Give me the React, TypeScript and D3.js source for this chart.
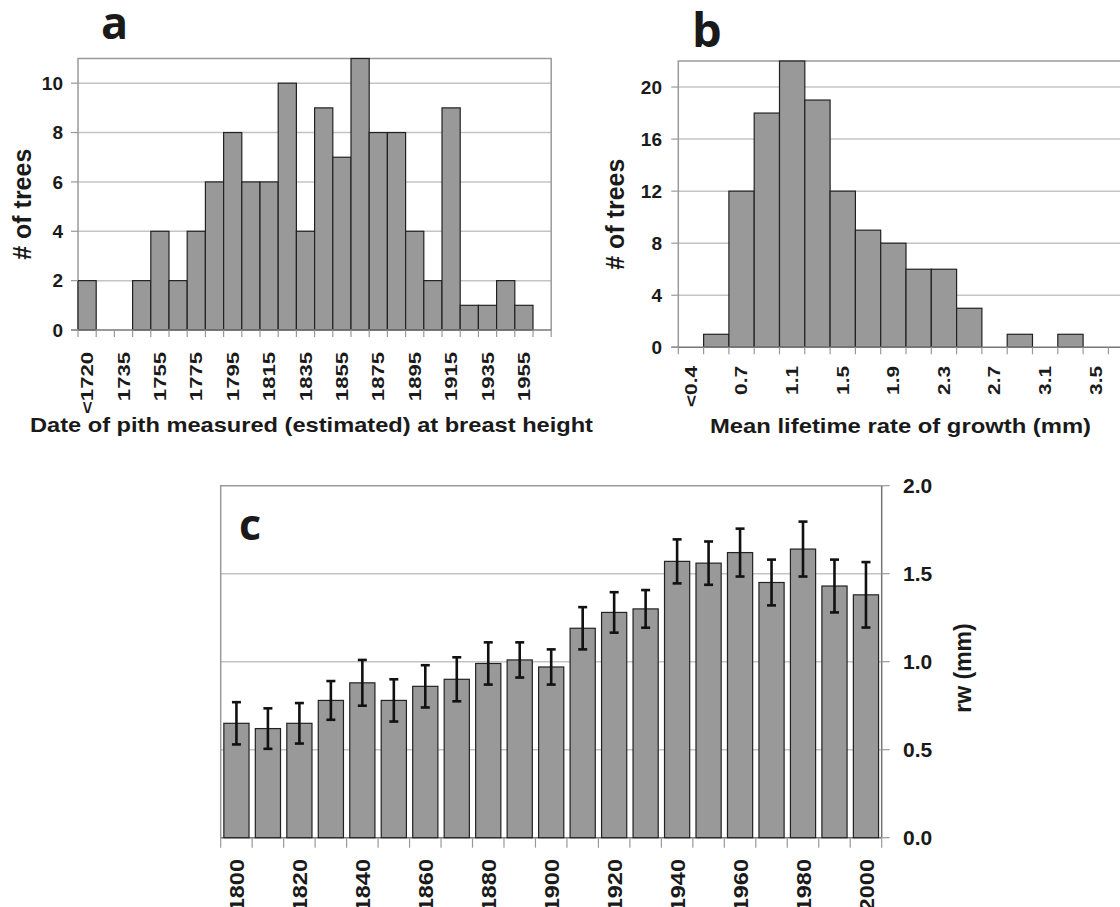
import { useEffect, useRef } from 'react';
import * as d3 from 'd3';

// panel a: date of pith at breast height (26 bins, label every other bin)
const PITH_COUNTS = [2, 0, 0, 2, 4, 2, 4, 6, 8, 6, 6, 10, 4, 9, 7, 11, 8, 8, 4, 2, 9, 1, 1, 2, 1, 0];
const PITH_LABELS = ['<1720', '1735', '1755', '1775', '1795', '1815', '1835', '1855', '1875', '1895', '1915', '1935', '1955'];
const PITH_TICKS = [0, 2, 4, 6, 8, 10];

// panel b: mean lifetime growth rate (18 bins, last one cut by the page edge)
const GROWTH_COUNTS = [0, 1, 12, 18, 22, 19, 12, 9, 8, 6, 6, 3, 0, 1, 0, 1, 0, 0];
const GROWTH_LABELS = ['<0.4', '0.7', '1.1', '1.5', '1.9', '2.3', '2.7', '3.1', '3.5'];
const GROWTH_TICKS = [0, 4, 8, 12, 16, 20];

// panel c: ring width per decade
const RW_DECADES = [1800, 1810, 1820, 1830, 1840, 1850, 1860, 1870, 1880, 1890, 1900, 1910, 1920, 1930, 1940, 1950, 1960, 1970, 1980, 1990, 2000];
const RW_MEAN = [0.65, 0.62, 0.65, 0.78, 0.88, 0.78, 0.86, 0.90, 0.99, 1.01, 0.97, 1.19, 1.28, 1.30, 1.57, 1.56, 1.62, 1.45, 1.64, 1.43, 1.38];
const RW_ERR = [0.12, 0.115, 0.115, 0.11, 0.13, 0.12, 0.12, 0.125, 0.12, 0.1, 0.1, 0.12, 0.115, 0.107, 0.125, 0.123, 0.136, 0.13, 0.156, 0.15, 0.186];
const RW_TICKS = [0, 0.5, 1.0, 1.5, 2.0];

const FONT = '"Liberation Sans", Arial, sans-serif';
const INK = '#1a1a1a';
const BAR = '#999999';
const GRID = '#c4c4c4';
const FRAME = '#9a9a9a';

type Sel = d3.Selection<SVGGElement, unknown, null, undefined>;

function histogram(root: Sel, o: {
  counts: number[]; labels: string[]; ticks: number[]; max: number;
  x0: number; binW: number; top: number; bottom: number;
  labelTop: number; labelSize: number; yLabelX: number; tickRight: number;
  title: string; titleX: number; titleY: number; titleLen: number;
}) {
  const n = o.counts.length;
  const x = d3.scaleBand<number>().domain(d3.range(n)).range([o.x0, o.x0 + n * o.binW]).padding(0);
  const y = d3.scaleLinear().domain([0, o.max]).range([o.bottom, o.top]);
  const x1 = o.x0 + n * o.binW;

  // grid
  root.append('g').selectAll('line').data(o.ticks.filter(t => t > 0)).join('line')
    .attr('x1', o.x0).attr('x2', x1).attr('y1', d => y(d)).attr('y2', d => y(d))
    .attr('stroke', GRID).attr('stroke-width', 1.5);

  // frame
  root.append('path')
    .attr('d', `M${o.x0},${o.bottom}V${o.top}H${x1}V${o.bottom}`)
    .attr('fill', 'none').attr('stroke', FRAME).attr('stroke-width', 1.5);

  // bars
  root.append('g').selectAll('rect').data(o.counts.map((c, i) => ({ c, i })).filter(d => d.c > 0)).join('rect')
    .attr('x', d => x(d.i)!).attr('width', x.bandwidth())
    .attr('y', d => y(d.c)).attr('height', d => o.bottom - y(d.c))
    .attr('fill', BAR).attr('stroke', '#222').attr('stroke-width', 1.2);

  // x axis + ticks at bin edges
  root.append('line').attr('x1', o.x0 - 7).attr('x2', x1).attr('y1', o.bottom).attr('y2', o.bottom)
    .attr('stroke', '#777').attr('stroke-width', 1.5);
  root.append('g').selectAll('line').data(d3.range(n + 1)).join('line')
    .attr('x1', i => o.x0 + i * o.binW).attr('x2', i => o.x0 + i * o.binW)
    .attr('y1', o.bottom).attr('y2', o.bottom + 7)
    .attr('stroke', '#999').attr('stroke-width', 1.2);

  // y ticks
  root.append('g').selectAll('line').data(o.ticks).join('line')
    .attr('x1', o.x0 - 7).attr('x2', o.x0).attr('y1', d => y(d)).attr('y2', d => y(d))
    .attr('stroke', '#999').attr('stroke-width', 1.2);
  root.append('g').selectAll('text').data(o.ticks).join('text')
    .attr('x', o.tickRight).attr('y', d => y(d)).attr('dy', '0.36em')
    .attr('text-anchor', 'end').attr('font-size', 19).attr('font-weight', 700)
    .attr('fill', INK).text(d => d);

  // rotated category labels (every other bin)
  root.append('g').selectAll('text').data(o.labels).join('text')
    .attr('transform', (_, i) => `translate(${x(i * 2)! + x.bandwidth() / 2},${o.labelTop}) rotate(-90) scale(1.3,1)`)
    .attr('dy', '0.36em').attr('text-anchor', 'end')
    .attr('font-size', o.labelSize).attr('font-weight', 700).attr('fill', INK)
    .text(d => d);

  root.append('text')
    .attr('transform', `translate(${o.yLabelX},${(o.top + o.bottom) / 2 + 10}) rotate(-90)`)
    .attr('dy', '0.36em').attr('text-anchor', 'middle')
    .attr('font-size', 25).attr('font-weight', 700).attr('fill', INK).text('# of trees');

  root.append('text')
    .attr('x', o.titleX).attr('y', o.titleY)
    .attr('textLength', o.titleLen).attr('lengthAdjust', 'spacingAndGlyphs')
    .attr('font-size', 21).attr('font-weight', 700).attr('fill', INK).text(o.title);
}

export default function App() {
  const svgRef = useRef<SVGSVGElement>(null);

  useEffect(() => {
    if (!svgRef.current) return;
    const svg = d3.select(svgRef.current);
    svg.selectAll('*').remove();
    const root = svg.append('g').attr('font-family', FONT) as Sel;

    // ── a ─────────────────────────────────────────────
    histogram(root, {
      counts: PITH_COUNTS, labels: PITH_LABELS, ticks: PITH_TICKS, max: 11,
      x0: 78, binW: 18.2, top: 58.5, bottom: 330,
      labelTop: 352, labelSize: 17, yLabelX: 22, tickRight: 63,
      title: 'Date of pith measured (estimated) at breast height', titleX: 30, titleY: 432, titleLen: 563,
    });
    root.append('text').attr('x', 101).attr('y', 39)
      .attr('font-family', '"Open Sans", sans-serif').attr('font-size', 45).attr('font-weight', 700)
      .attr('fill', INK).text('a');

    // ── b ─────────────────────────────────────────────
    histogram(root, {
      counts: GROWTH_COUNTS, labels: GROWTH_LABELS, ticks: GROWTH_TICKS, max: 22,
      x0: 678.3, binW: 25.3, top: 61, bottom: 347.3,
      labelTop: 366, labelSize: 16, yLabelX: 615, tickRight: 662,
      title: 'Mean lifetime rate of growth (mm)', titleX: 710, titleY: 433, titleLen: 381,
    });
    root.append('text').attr('x', 692).attr('y', 46.5)
      .attr('font-family', '"Open Sans", sans-serif').attr('font-size', 47).attr('font-weight', 700)
      .attr('fill', INK).text('b');

    // ── c ─────────────────────────────────────────────
    const cx0 = 220.7, cx1 = 881.7, ctop = 485.7, cbot = 837.7;
    const x = d3.scaleBand<number>().domain(RW_DECADES).range([cx0, cx1]).paddingInner(0.2).paddingOuter(0.1);
    const y = d3.scaleLinear().domain([0, 2]).range([cbot, ctop]);
    const step = (cx1 - cx0) / RW_DECADES.length;
    const c = root.append('g');

    c.append('g').selectAll('line').data(RW_TICKS.filter(t => t > 0 && t < 2)).join('line')
      .attr('x1', cx0).attr('x2', cx1).attr('y1', d => y(d)).attr('y2', d => y(d))
      .attr('stroke', GRID).attr('stroke-width', 1.5);
    c.append('path').attr('d', `M${cx0},${cbot}V${ctop}H${cx1}`)
      .attr('fill', 'none').attr('stroke', FRAME).attr('stroke-width', 1.5);
    c.append('line').attr('x1', cx1).attr('x2', cx1).attr('y1', ctop).attr('y2', cbot)
      .attr('stroke', '#777').attr('stroke-width', 1.5);
    c.append('line').attr('x1', cx0).attr('x2', cx1).attr('y1', cbot).attr('y2', cbot)
      .attr('stroke', '#777').attr('stroke-width', 1.5);

    c.append('g').selectAll('rect').data(RW_DECADES).join('rect')
      .attr('x', d => x(d)!).attr('width', x.bandwidth())
      .attr('y', (_, i) => y(RW_MEAN[i])).attr('height', (_, i) => cbot - y(RW_MEAN[i]))
      .attr('fill', BAR).attr('stroke', '#222').attr('stroke-width', 1.2);

    const eb = c.append('g').attr('stroke', '#111').attr('stroke-width', 2.6);
    RW_DECADES.forEach((d, i) => {
      const mx = x(d)! + x.bandwidth() / 2;
      const hi = y(RW_MEAN[i] + RW_ERR[i]);
      const lo = y(RW_MEAN[i] - RW_ERR[i]);
      eb.append('line').attr('x1', mx).attr('x2', mx).attr('y1', hi).attr('y2', lo);
      eb.append('line').attr('x1', mx - 4.5).attr('x2', mx + 4.5).attr('y1', hi).attr('y2', hi);
      eb.append('line').attr('x1', mx - 4.5).attr('x2', mx + 4.5).attr('y1', lo).attr('y2', lo);
    });

    // x ticks at band edges
    c.append('g').selectAll('line').data(d3.range(RW_DECADES.length + 1)).join('line')
      .attr('x1', i => cx0 + i * step).attr('x2', i => cx0 + i * step)
      .attr('y1', cbot).attr('y2', cbot + 10)
      .attr('stroke', '#999').attr('stroke-width', 1.2);
    c.append('g').selectAll('text').data(RW_DECADES.filter((_, i) => i % 2 === 0)).join('text')
      .attr('transform', d => `translate(${x(d)! + x.bandwidth() / 2},${859}) rotate(-90) scale(1.12,1)`)
      .attr('dy', '0.36em').attr('text-anchor', 'end')
      .attr('font-size', 21).attr('font-weight', 700).attr('fill', INK)
      .text(d => d);

    // right axis
    c.append('g').selectAll('line').data(RW_TICKS).join('line')
      .attr('x1', cx1).attr('x2', cx1 + 8).attr('y1', d => y(d)).attr('y2', d => y(d))
      .attr('stroke', '#999').attr('stroke-width', 1.2);
    c.append('g').selectAll('text').data(RW_TICKS).join('text')
      .attr('x', 903).attr('y', d => y(d)).attr('dy', '0.36em')
      .attr('font-size', 21).attr('font-weight', 700).attr('fill', INK)
      .text(d => d3.format('.1f')(d));
    c.append('text')
      .attr('transform', `translate(963,${668}) rotate(-90)`)
      .attr('dy', '0.36em').attr('text-anchor', 'middle')
      .attr('font-size', 23).attr('font-weight', 700).attr('fill', INK).text('rw (mm)');

    c.append('text').attr('x', 239).attr('y', 540)
      .attr('font-family', '"Open Sans", sans-serif').attr('font-size', 43).attr('font-weight', 700)
      .attr('fill', INK).text('c');
  }, []);

  return (
    <svg ref={svgRef} width={1120} height={907}
      style={{ position: 'absolute', left: 0, top: 0, display: 'block', background: '#fff' }} />
  );
}
